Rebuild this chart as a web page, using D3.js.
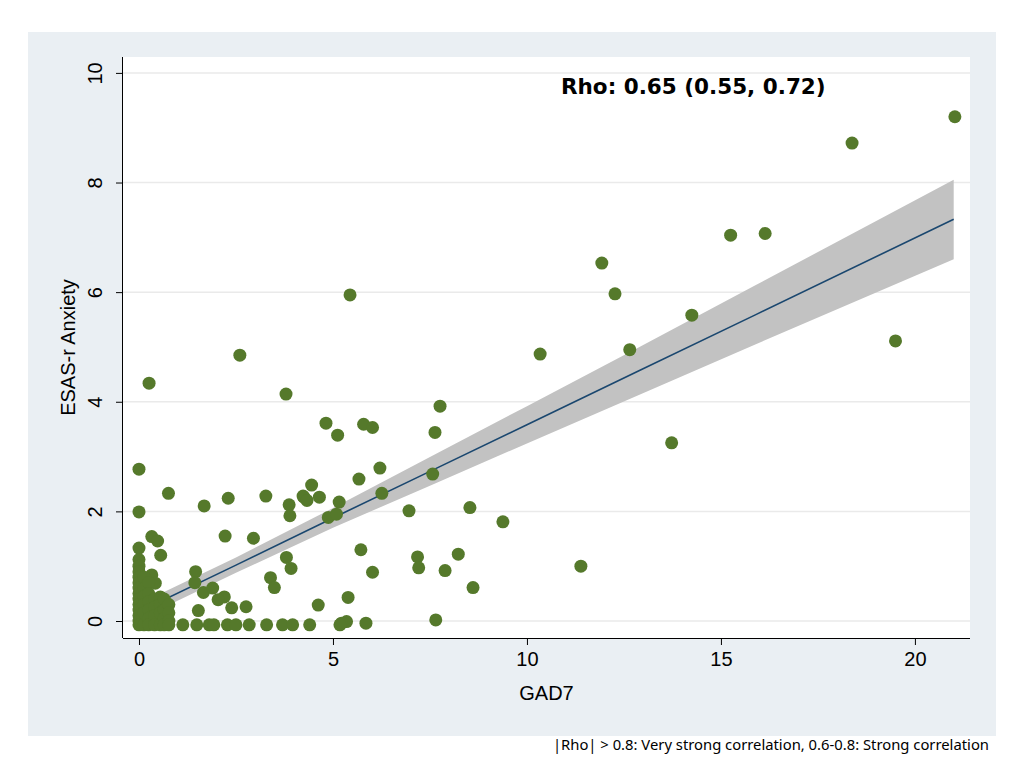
<!DOCTYPE html>
<html>
<head>
<meta charset="utf-8">
<script src="https://cdn.jsdelivr.net/npm/d3@7"></script>
<style>
  body { margin: 0; background: #ffffff; }
  svg { display: block; }
</style>
</head>
<body>
<div id="chart"></div>
<script>
// GAD7 vs ESAS-r Anxiety scatter, with linear fit and 95% CI band

const gad7 = [
  21.03, 18.38, 15.25, 16.14, 11.93, 12.27, 5.44, 14.25, 12.65, 10.34, 19.5, 2.6,
  0.26, 3.79, 7.76, 13.73, 4.82, 5.79, 6.02, 5.12, 7.63,
  0, 6.21, 7.57, 5.67, 4.45, 0.76, 2.3, 3.27, 4.23, 4.25, 4.33, 4.65, 6.26, 5.16,
  1.68, 3.87, 8.53, 0, 3.89, 4.88, 5.09, 6.96, 9.38,
  0.33, 0.48, 2.22, 2.95, 0, 0.56, 5.72, 8.23, 3.8, 7.18, 11.39, 3.92, 7.21, 7.89, 6.02,
  1.46, 3.39, 0.33, 1.44, 0.42, 3.49, 8.61, 1.66, 1.9, 5.39, 2.2, 2.04, 4.62, 2.76, 2.39, 1.53,
  7.65, 5.35, 5.22, 5.85,
  1.13, 1.49, 1.81, 1.93, 2.28, 2.5, 2.84, 3.29, 3.7, 3.96, 4.4, 5.18,
  0, 0, 0, 0, 0, 0, 0, 0, 0, 0, 0, 0, 0,
  0.13, 0.13, 0.13, 0.13, 0.13, 0.13,
  0.25, 0.25, 0.25, 0.25, 0.25, 0.25,
  0.4, 0.4, 0.4, 0.4,
  0.55, 0.55, 0.55, 0.55,
  0.65, 0.65, 0.65, 0.65,
  0.77, 0.77, 0.77, 0.77
];

const esasAnxiety = [
  9.2, 8.72, 7.04, 7.07, 6.53, 5.97, 5.95, 5.58, 4.95, 4.87, 5.11, 4.85,
  4.34, 4.14, 3.92, 3.25, 3.61, 3.59, 3.53, 3.39, 3.44,
  2.77, 2.79, 2.68, 2.59, 2.48, 2.33, 2.24, 2.28, 2.28, 2.26, 2.2, 2.26, 2.33, 2.17,
  2.1, 2.12, 2.07, 1.99, 1.92, 1.89, 1.95, 2.01, 1.81,
  1.54, 1.46, 1.55, 1.51, 1.33, 1.2, 1.3, 1.22, 1.16, 1.17, 1.0, 0.96, 0.97, 0.92, 0.89,
  0.9, 0.79, 0.84, 0.7, 0.69, 0.61, 0.61, 0.52, 0.6, 0.43, 0.44, 0.39, 0.29, 0.26, 0.24, 0.19,
  0.02, -0.01, -0.04, -0.04,
  -0.07, -0.07, -0.07, -0.07, -0.07, -0.07, -0.07, -0.07, -0.07, -0.07, -0.07, -0.07,
  1.12, 1.0, 0.9, 0.8, 0.7, 0.6, 0.5, 0.4, 0.3, 0.2, 0.1, 0.0, -0.07,
  0.8, 0.6, 0.45, 0.3, 0.15, -0.07,
  0.7, 0.5, 0.35, 0.2, 0.05, -0.07,
  0.4, 0.25, 0.1, -0.07,
  0.44, 0.3, 0.15, -0.07,
  0.4, 0.2, 0.05, -0.07,
  0.3, 0.15, 0.0, -0.07
];

// fitted line and confidence band, read at a few x positions
const fitX  = [0,    2.5,  5,    7.5,  10,   12.9, 15.9, 21];
const fitY  = [0.17, 1.02, 1.88, 2.73, 3.58, 4.57, 5.59, 7.33];
const ciLow = [0.03, 0.88, 1.70, 2.47, 3.24, 4.13, 5.05, 6.60];
const ciHigh = [0.31, 1.16, 2.06, 2.99, 3.92, 5.00, 6.13, 8.05];

const xTicks = [0, 5, 10, 15, 20];
const yTicks = [0, 2, 4, 6, 8, 10];

const rhoLabel = 'Rho: 0.65 (0.55, 0.72)';
const footnote = '|Rho| > 0.8: Very strong correlation, 0.6-0.8: Strong correlation';

const width = 1024, height = 768;
const plot = { left: 123, right: 970, top: 57, bottom: 638 };

const svg = d3.select('#chart').append('svg')
  .attr('width', width)
  .attr('height', height);

// outer graph region
svg.append('rect')
  .attr('x', 28).attr('y', 32)
  .attr('width', 968).attr('height', 704)
  .attr('fill', '#eaeff3');

svg.append('rect')
  .attr('x', plot.left).attr('y', plot.top)
  .attr('width', plot.right - plot.left).attr('height', plot.bottom - plot.top)
  .attr('fill', '#ffffff');

const x = d3.scaleLinear().domain([-0.412, 21.42]).range([plot.left, plot.right]);
const y = d3.scaleLinear().domain([-0.31, 10.29]).range([plot.bottom, plot.top]);

// grid
svg.append('g')
  .selectAll('line')
  .data(yTicks)
  .join('line')
  .attr('x1', plot.left).attr('x2', plot.right)
  .attr('y1', d => y(d)).attr('y2', d => y(d))
  .attr('stroke', '#eaeaea')
  .attr('stroke-width', 1.5);

// CI band
const band = fitX.map((v, i) => ({ x: v, lo: ciLow[i], hi: ciHigh[i] }));
svg.append('path')
  .datum(band)
  .attr('d', d3.area().x(d => x(d.x)).y0(d => y(d.lo)).y1(d => y(d.hi)))
  .attr('fill', '#c2c2c2');

// fit line
svg.append('path')
  .datum(fitX.map((v, i) => [v, fitY[i]]))
  .attr('d', d3.line().x(d => x(d[0])).y(d => y(d[1])))
  .attr('fill', 'none')
  .attr('stroke', '#1a476f')
  .attr('stroke-width', 1.6);

// points
svg.append('g')
  .selectAll('circle')
  .data(gad7.map((v, i) => [v, esasAnxiety[i]]))
  .join('circle')
  .attr('cx', d => x(d[0]))
  .attr('cy', d => y(d[1]))
  .attr('r', 6.5)
  .attr('fill', '#55792b');

// axes
const xAxis = svg.append('g')
  .attr('transform', `translate(0,${plot.bottom})`)
  .call(d3.axisBottom(x).tickValues(xTicks).tickSize(7).tickPadding(7).tickFormat(d3.format('d')));
xAxis.select('.domain').attr('d', `M${plot.left},0.5H${plot.right}`).attr('stroke', '#000');
xAxis.selectAll('text')
  .attr('font-family', 'Liberation Sans, Arial, sans-serif')
  .attr('font-size', 20)
  .attr('fill', '#000');

const yAxis = svg.append('g')
  .attr('transform', `translate(${plot.left},0)`)
  .call(d3.axisLeft(y).tickValues(yTicks).tickSize(7).tickFormat(d3.format('d')));
yAxis.select('.domain').attr('d', `M-0.5,${plot.top}V${plot.bottom}`).attr('stroke', '#000');
yAxis.selectAll('text')
  .attr('font-family', 'Liberation Sans, Arial, sans-serif')
  .attr('font-size', 20)
  .attr('fill', '#000')
  .attr('x', 0).attr('dy', 0)
  .attr('text-anchor', 'middle')
  .attr('transform', 'translate(-21,0) rotate(-90)');

// axis titles
svg.append('text')
  .attr('x', (plot.left + plot.right) / 2)
  .attr('y', 700)
  .attr('text-anchor', 'middle')
  .attr('font-family', 'Liberation Sans, Arial, sans-serif')
  .attr('font-size', 20)
  .text('GAD7');

svg.append('text')
  .attr('transform', `translate(75,${(plot.top + plot.bottom) / 2}) rotate(-90)`)
  .attr('text-anchor', 'middle')
  .attr('font-family', 'Liberation Sans, Arial, sans-serif')
  .attr('font-size', 20)
  .text('ESAS-r Anxiety');

// annotation
svg.append('text')
  .attr('x', 561)
  .attr('y', 94)
  .attr('font-family', 'DejaVu Sans, sans-serif')
  .attr('font-weight', 'bold')
  .attr('font-size', 21.5)
  .text(rhoLabel);

svg.append('text')
  .attr('x', 989)
  .attr('y', 750)
  .attr('text-anchor', 'end')
  .attr('font-family', 'Noto Sans, sans-serif')
  .attr('font-size', 14.8)
  .text(footnote);
</script>
</body>
</html>
